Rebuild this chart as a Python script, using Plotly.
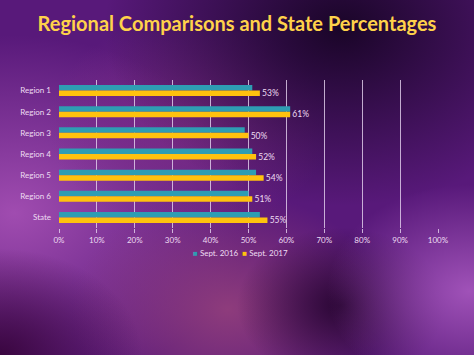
import base64
import plotly.graph_objects as go

categories = ["Region 1", "Region 2", "Region 3", "Region 4", "Region 5", "Region 6", "State"]
sept_2016 = [51, 61, 49, 51, 52, 50, 53]
sept_2017 = [53, 61, 50, 52, 54, 51, 55]
x_ticks = [0, 10, 20, 30, 40, 50, 60, 70, 80, 90, 100]
x_tick_labels = [f"{v}%" for v in x_ticks]

W, H = 474, 355
ML, MR, MT, MB = 59, 36, 80, 127
PW, PH = W - ML - MR, H - MT - MB

svg = """<svg xmlns='http://www.w3.org/2000/svg' width='474' height='355' viewBox='0 0 474 355' preserveAspectRatio='none'>
<defs>
<radialGradient id='g1' cx='0.03' cy='0.6' r='0.5'>
<stop offset='0' stop-color='#a04cb0'/><stop offset='1' stop-color='#a04cb0' stop-opacity='0'/></radialGradient>
<radialGradient id='g2' cx='0.72' cy='0.08' r='0.5'>
<stop offset='0' stop-color='#1a0528'/><stop offset='1' stop-color='#1a0528' stop-opacity='0'/></radialGradient>
<radialGradient id='g3' cx='0.99' cy='0.82' r='0.3'>
<stop offset='0' stop-color='#a052b8'/><stop offset='1' stop-color='#a052b8' stop-opacity='0'/></radialGradient>
<radialGradient id='g4' cx='0.48' cy='0.87' r='0.33'>
<stop offset='0' stop-color='#8e3c7c'/><stop offset='1' stop-color='#8e3c7c' stop-opacity='0'/></radialGradient>
<radialGradient id='g5' cx='0.72' cy='0.86' r='0.22'>
<stop offset='0' stop-color='#2a0634'/><stop offset='1' stop-color='#2a0634' stop-opacity='0'/></radialGradient>
<radialGradient id='g6' cx='0.4' cy='0.35' r='0.3'>
<stop offset='0' stop-color='#7a2c86'/><stop offset='1' stop-color='#7a2c86' stop-opacity='0'/></radialGradient>
<radialGradient id='g7' cx='0.0' cy='1.0' r='0.3'>
<stop offset='0' stop-color='#3a0640'/><stop offset='1' stop-color='#3a0640' stop-opacity='0'/></radialGradient>
</defs>
<rect width='474' height='355' fill='#58197a'/>
<rect width='474' height='355' fill='url(#g1)'/>
<rect width='474' height='355' fill='url(#g6)'/>
<rect width='474' height='355' fill='url(#g4)'/>
<rect width='474' height='355' fill='url(#g2)'/>
<rect width='474' height='355' fill='url(#g5)'/>
<rect width='474' height='355' fill='url(#g3)'/>
<rect width='474' height='355' fill='url(#g7)'/>
</svg>"""
bg_uri = "data:image/svg+xml;base64," + base64.b64encode(svg.encode()).decode()

LABEL_COLOR = "#eedcf2"
FONT = "Lato"
FS = 8

fig = go.Figure()
fig.add_trace(go.Bar(
    y=categories, x=sept_2016, orientation="h", name="Sept. 2016",
    marker=dict(color="#2e9db3", line=dict(width=0)),
))
fig.add_trace(go.Bar(
    y=categories, x=sept_2017, orientation="h", name="Sept. 2017",
    marker=dict(color="#ffc20e", line=dict(width=0)),
    text=[f"\u00a0{v}%" for v in sept_2017], textposition="outside",
    constraintext="none",
    textfont=dict(color=LABEL_COLOR, size=FS + 0.5, family=FONT), cliponaxis=False,
))

fig.update_layout(
    width=W, height=H,
    margin=dict(l=ML, r=MR, t=MT, b=MB, autoexpand=False),
    paper_bgcolor="#58197a", plot_bgcolor="rgba(0,0,0,0)",
    barmode="group", bargap=0.48, bargroupgap=0,
    images=[dict(source=bg_uri, xref="paper", yref="paper",
                 x=-ML / PW, y=1 + MT / PH, sizex=W / PW, sizey=H / PH,
                 xanchor="left", yanchor="top", sizing="stretch", layer="below")],
    title=dict(text="<b>Regional Comparisons and State Percentages</b>",
               x=0.5, xanchor="center", y=1 - 24 / H, yanchor="middle",
               font=dict(family="Lato", size=20, color="#ffd24a")),
    showlegend=False,
    annotations=[dict(
        text="<span style='color:#2e9db3'>■</span> Sept. 2016  "
             "<span style='color:#ffc20e'>■</span> Sept. 2017",
        xref="paper", yref="paper", x=(240 - ML) / PW, y=-(253 - (MT + PH)) / PH,
        xanchor="center", yanchor="middle", showarrow=False,
        font=dict(family=FONT, size=FS, color=LABEL_COLOR),
    )],
    font=dict(family=FONT, size=FS, color=LABEL_COLOR),
)
fig.update_xaxes(
    range=[0, 100], tickvals=x_ticks, ticktext=x_tick_labels,
    showgrid=True, gridcolor="rgba(230,212,240,0.8)", gridwidth=1,
    zeroline=False, showline=False,
    ticks="outside", ticklen=4, tickcolor="rgba(230,212,240,0.8)",
    tickfont=dict(size=FS, color=LABEL_COLOR, family=FONT), fixedrange=True,
)
fig.update_yaxes(
    autorange="reversed", showgrid=False, zeroline=False, showline=False,
    ticks="", ticklabelstandoff=7,
    tickfont=dict(size=FS, color=LABEL_COLOR, family=FONT),
)

fig.write_html("out.html", config={"displayModeBar": False},
               post_script="document.body.style.margin='0';document.body.style.padding='0';")
